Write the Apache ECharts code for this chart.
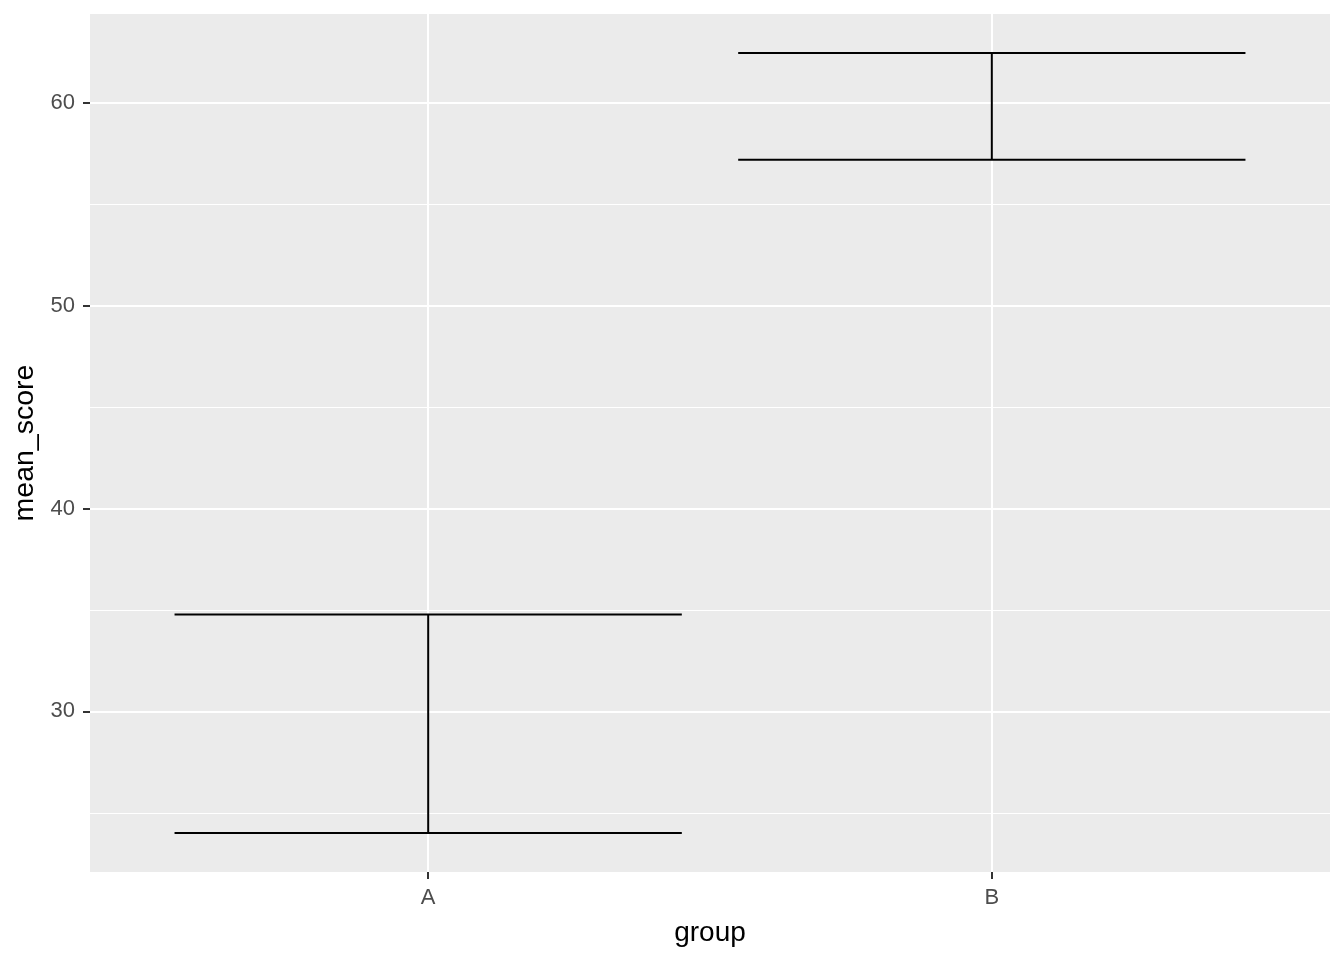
<!DOCTYPE html>
<html>
<head>
<meta charset="utf-8">
<script src="https://cdn.jsdelivr.net/npm/echarts@6/dist/echarts.min.js"></script>
<style>html,body{margin:0;padding:0;background:#fff}#c{width:1344px;height:960px}</style>
</head>
<body>
<div id="c"></div>
<script>
const categories = ['A', 'B'];
const lowerValues = [24.0, 57.2];
const upperValues = [34.77, 62.46];
const yMajorTicks = [30, 40, 50, 60];
const yMinorTicks = [25, 35, 45, 55];
const xPositions = [1, 2];

const chart = echarts.init(document.getElementById('c'), null, {renderer: 'canvas'});
const errData = categories.map((c, i) => [xPositions[i], lowerValues[i], upperValues[i]]);
const gridLine = (axis, v, w) => ({[axis]: v, lineStyle: {color: '#ffffff', width: w, type: 'solid'}});

chart.setOption({
  backgroundColor: '#ffffff',
  animation: false,
  grid: {left: 90, right: 14, top: 14, bottom: 88, show: true, backgroundColor: '#ebebeb', borderWidth: 0},
  xAxis: {
    type: 'value', min: 0.4, max: 2.6,
    name: 'group', nameLocation: 'middle', nameGap: 47,
    nameTextStyle: {color: '#000', fontSize: 28, fontFamily: 'Liberation Sans'},
    axisLine: {show: false},
    splitLine: {show: false},
    axisTick: {show: true, length: 7, customValues: xPositions, lineStyle: {color: '#333333', width: 2}},
    axisLabel: {customValues: xPositions, formatter: v => categories[Math.round(v) - 1] || '', color: '#4d4d4d', fontSize: 22, fontFamily: 'Liberation Sans', margin: 15}
  },
  yAxis: {
    type: 'value', min: 22.08, max: 64.38,
    name: 'mean_score', nameLocation: 'middle', nameGap: 43,
    nameTextStyle: {color: '#000', fontSize: 28.5, fontFamily: 'Liberation Sans'},
    axisLine: {show: false},
    splitLine: {show: false},
    axisTick: {show: true, length: 7, customValues: yMajorTicks, lineStyle: {color: '#333333', width: 2}},
    axisLabel: {customValues: yMajorTicks, color: '#4d4d4d', fontSize: 22, fontFamily: 'Liberation Sans', margin: 15}
  },
  series: [
    {
      type: 'line', data: [], silent: true, z: 1,
      markLine: {
        silent: true, symbol: 'none', label: {show: false}, animation: false,
        data: [
          ...yMinorTicks.map(v => gridLine('yAxis', v, 1)),
          ...yMajorTicks.map(v => gridLine('yAxis', v, 2)),
          ...xPositions.map(v => gridLine('xAxis', v, 2))
        ]
      }
    },
    {
      type: 'custom', z: 5,
      data: errData,
      renderItem: function (params, api) {
        const x = api.value(0), lo = api.value(1), hi = api.value(2);
        const half = 0.45;
        const pTopL = api.coord([x - half, hi]), pTopR = api.coord([x + half, hi]);
        const pBotL = api.coord([x - half, lo]), pBotR = api.coord([x + half, lo]);
        const pTop = api.coord([x, hi]), pBot = api.coord([x, lo]);
        const st = {stroke: '#000000', lineWidth: 2};
        return {
          type: 'group',
          children: [
            {type: 'line', shape: {x1: pTopL[0], y1: pTopL[1], x2: pTopR[0], y2: pTopR[1]}, style: st},
            {type: 'line', shape: {x1: pBotL[0], y1: pBotL[1], x2: pBotR[0], y2: pBotR[1]}, style: st},
            {type: 'line', shape: {x1: pTop[0], y1: pTop[1], x2: pBot[0], y2: pBot[1]}, style: st}
          ]
        };
      }
    }
  ]
});
</script>
</body>
</html>
